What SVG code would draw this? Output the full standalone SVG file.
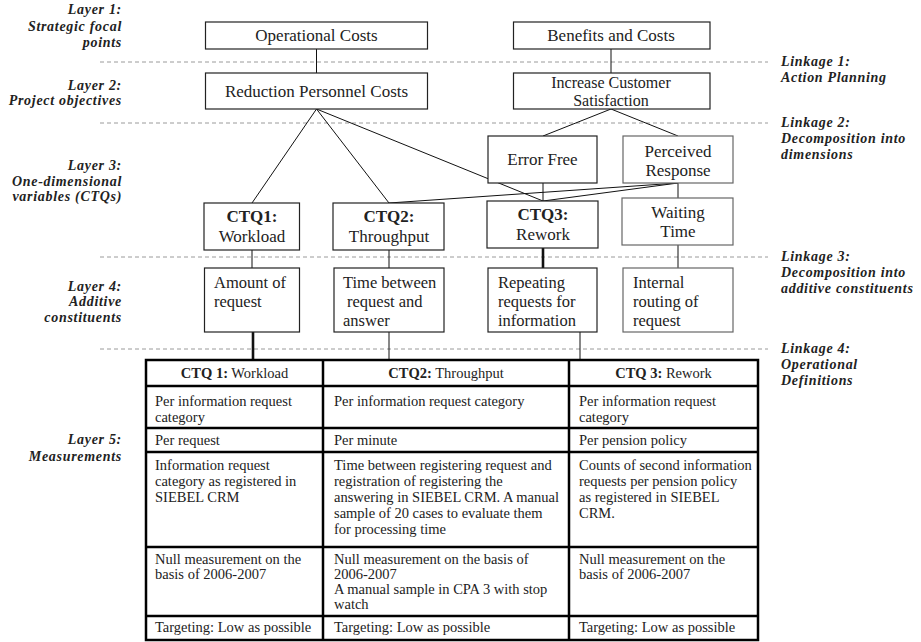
<svg xmlns="http://www.w3.org/2000/svg" width="921" height="642" viewBox="0 0 921 642">
<style>
  .box{fill:#fff;stroke:#222;stroke-width:1.2}
  .soft{stroke:#666}
  .sep{stroke:#9a9a9a;stroke-width:1;stroke-dasharray:4 3;fill:none}
  .ln{stroke:#111;stroke-width:1;fill:none}
  .heavy{stroke-width:2.6}
  .t{font-family:"Liberation Serif","DejaVu Serif",serif;font-size:17px;fill:#222}
  .t2{font-family:"Liberation Serif","DejaVu Serif",serif;font-size:16px;fill:#222}
  .t4{font-family:"Liberation Serif","DejaVu Serif",serif;font-size:16.5px;fill:#222}
  .c{text-anchor:middle}
  .b{font-weight:bold}
  .lab{font-family:"Liberation Serif","DejaVu Serif",serif;font-size:14px;font-weight:bold;font-style:italic;letter-spacing:0.7px;fill:#222}
  .end{text-anchor:end}
  .cell{font-family:"Liberation Serif","DejaVu Serif",serif;font-size:14.5px;fill:#222}
  .grid{stroke:#000;stroke-width:2.5;fill:none}
</style>
<rect width="921" height="642" fill="#fff"/>

<!-- layer separators -->
<g id="separators">
  <line class="sep" x1="100" y1="62" x2="768" y2="62"/>
  <line class="sep" x1="100" y1="123" x2="768" y2="123"/>
  <line class="sep" x1="100" y1="257" x2="768" y2="257"/>
  <line class="sep" x1="100" y1="349" x2="768" y2="349"/>
</g>

<!-- layer captions (left) -->
<g id="layer-labels">
  <text class="lab end" x="122" y="14">Layer 1:</text>
  <text class="lab end" x="122" y="31">Strategic focal</text>
  <text class="lab end" x="122" y="47">points</text>
  <text class="lab end" x="122" y="90">Layer 2:</text>
  <text class="lab end" x="122" y="105">Project objectives</text>
  <text class="lab end" x="122" y="170">Layer 3:</text>
  <text class="lab end" x="122" y="186">One-dimensional</text>
  <text class="lab end" x="122" y="201">variables (CTQs)</text>
  <text class="lab end" x="122" y="291">Layer 4:</text>
  <text class="lab end" x="122" y="306">Additive</text>
  <text class="lab end" x="122" y="322">constituents</text>
  <text class="lab end" x="122" y="444">Layer 5:</text>
  <text class="lab end" x="122" y="461">Measurements</text>
</g>

<!-- linkage captions (right) -->
<g id="linkage-labels">
  <text class="lab" x="781" y="66">Linkage 1:</text>
  <text class="lab" x="781" y="82">Action Planning</text>
  <text class="lab" x="781" y="127">Linkage 2:</text>
  <text class="lab" x="781" y="143">Decomposition into</text>
  <text class="lab" x="781" y="159">dimensions</text>
  <text class="lab" x="781" y="261">Linkage 3:</text>
  <text class="lab" x="781" y="277">Decomposition into</text>
  <text class="lab" x="781" y="293">additive constituents</text>
  <text class="lab" x="781" y="353">Linkage 4:</text>
  <text class="lab" x="781" y="369">Operational</text>
  <text class="lab" x="781" y="385">Definitions</text>
</g>

<!-- connectors -->
<g id="connectors">
  <line class="ln" x1="316.5" y1="49" x2="316.5" y2="73"/>
  <line class="ln" x1="611" y1="49" x2="611" y2="73"/>
  <line class="ln" x1="316.5" y1="109" x2="252" y2="203"/>
  <line class="ln" x1="316.5" y1="109" x2="389" y2="203"/>
  <line class="ln" x1="316.5" y1="109" x2="543" y2="201"/>
  <line class="ln" x1="611" y1="109" x2="543" y2="136"/>
  <line class="ln" x1="611" y1="109" x2="678" y2="136"/>
  <line class="ln" x1="678" y1="183" x2="389" y2="203"/>
  <line class="ln" x1="678" y1="183" x2="543" y2="201"/>
  <line class="ln" x1="678" y1="183" x2="678" y2="198"/>
  <line class="ln" x1="543" y1="183" x2="543" y2="201"/>
  <line class="ln" x1="252" y1="250" x2="252" y2="268"/>
  <line class="ln" x1="389" y1="250" x2="389" y2="268"/>
  <line class="ln heavy" x1="543" y1="248" x2="543" y2="268"/>
  <line class="ln" x1="678" y1="245" x2="678" y2="268"/>
  <line class="ln heavy" x1="253" y1="332" x2="253" y2="360"/>
  <line class="ln" x1="389" y1="332" x2="389" y2="360"/>
  <line class="ln" x1="580" y1="332" x2="580" y2="360"/>
</g>

<!-- layer 1 -->
<g id="operational-costs">
  <rect class="box" x="205.5" y="22" width="222" height="27"/>
  <text class="t c" x="316.5" y="41">Operational Costs</text>
</g>
<g id="benefits-costs">
  <rect class="box" x="513.5" y="22" width="196.5" height="27"/>
  <text class="t c" x="611" y="41">Benefits and Costs</text>
</g>

<!-- layer 2 -->
<g id="reduction-personnel-costs">
  <rect class="box" x="205.5" y="73" width="222" height="36"/>
  <text class="t c" x="316.5" y="97">Reduction Personnel Costs</text>
</g>
<g id="increase-customer-satisfaction">
  <rect class="box" x="513.5" y="73" width="196.5" height="36"/>
  <text class="t2 c" x="611" y="88">Increase Customer</text>
  <text class="t2 c" x="611" y="106">Satisfaction</text>
</g>

<!-- layer 3 -->
<g id="error-free">
  <rect class="box" x="488" y="136" width="109" height="47"/>
  <text class="t c" x="542.5" y="165">Error Free</text>
</g>
<g id="perceived-response">
  <rect class="box soft" x="623" y="136" width="110" height="47"/>
  <text class="t c" x="678" y="157">Perceived</text>
  <text class="t c" x="678" y="176">Response</text>
</g>
<g id="ctq1">
  <rect class="box" x="204" y="203" width="95.5" height="47"/>
  <text class="t c b" x="252" y="222">CTQ1:</text>
  <text class="t c" x="252" y="242">Workload</text>
</g>
<g id="ctq2">
  <rect class="box" x="333" y="203" width="111" height="47"/>
  <text class="t c b" x="389" y="222">CTQ2:</text>
  <text class="t c" x="389" y="242">Throughput</text>
</g>
<g id="ctq3">
  <rect class="box" x="487" y="201" width="111" height="47"/>
  <text class="t c b" x="543" y="220">CTQ3:</text>
  <text class="t c" x="543" y="240">Rework</text>
</g>
<g id="waiting-time">
  <rect class="box soft" x="622" y="198" width="111" height="47"/>
  <text class="t c" x="678" y="218">Waiting</text>
  <text class="t c" x="678" y="237">Time</text>
</g>

<!-- layer 4 -->
<g id="amount-of-request">
  <rect class="box" x="204.5" y="268" width="95" height="64"/>
  <text class="t4" x="214" y="288">Amount of</text>
  <text class="t4" x="214" y="307">request</text>
</g>
<g id="time-between">
  <rect class="box" x="334" y="268" width="110" height="64"/>
  <text class="t4" x="343" y="288">Time between</text>
  <text class="t4" x="347" y="307">request and</text>
  <text class="t4" x="343" y="326">answer</text>
</g>
<g id="repeating-requests">
  <rect class="box" x="488" y="268" width="109" height="64"/>
  <text class="t4" x="498" y="288">Repeating</text>
  <text class="t4" x="498" y="307">requests for</text>
  <text class="t4" x="498" y="326">information</text>
</g>
<g id="internal-routing">
  <rect class="box soft" x="623" y="268" width="110" height="64"/>
  <text class="t4" x="633" y="288">Internal</text>
  <text class="t4" x="633" y="307">routing of</text>
  <text class="t4" x="633" y="326">request</text>
</g>

<!-- layer 5: measurement table -->
<g id="measurement-table">
  <rect class="grid" x="146" y="360" width="612" height="280"/>
  <line class="grid" x1="146" y1="386" x2="758" y2="386"/>
  <line class="grid" x1="146" y1="428" x2="758" y2="428"/>
  <line class="grid" x1="146" y1="452" x2="758" y2="452"/>
  <line class="grid" x1="146" y1="547" x2="758" y2="547"/>
  <line class="grid" x1="146" y1="616" x2="758" y2="616"/>
  <line class="grid" x1="323" y1="360" x2="323" y2="640"/>
  <line class="grid" x1="569" y1="360" x2="569" y2="640"/>

  <text class="cell c" x="234.5" y="378"><tspan font-weight="bold">CTQ 1:</tspan> Workload</text>
  <text class="cell c" x="446" y="378"><tspan font-weight="bold">CTQ2:</tspan> Throughput</text>
  <text class="cell c" x="663.5" y="378"><tspan font-weight="bold">CTQ 3:</tspan> Rework</text>

  <text class="cell" x="155" y="406">Per information request</text>
  <text class="cell" x="155" y="422">category</text>
  <text class="cell" x="334" y="406">Per information request category</text>
  <text class="cell" x="579" y="406">Per information request</text>
  <text class="cell" x="579" y="422">category</text>

  <text class="cell" x="155" y="445">Per request</text>
  <text class="cell" x="334" y="445">Per minute</text>
  <text class="cell" x="579" y="445">Per pension policy</text>

  <text class="cell" x="155" y="470">Information request</text>
  <text class="cell" x="155" y="486">category as registered in</text>
  <text class="cell" x="155" y="502">SIEBEL CRM</text>
  <text class="cell" x="334" y="470">Time between registering request and</text>
  <text class="cell" x="334" y="486">registration of registering the</text>
  <text class="cell" x="334" y="502">answering in SIEBEL CRM. A manual</text>
  <text class="cell" x="334" y="518">sample of 20 cases to evaluate them</text>
  <text class="cell" x="334" y="534">for processing time</text>
  <text class="cell" x="579" y="470">Counts of second information</text>
  <text class="cell" x="579" y="486">requests per pension policy</text>
  <text class="cell" x="579" y="502">as registered in SIEBEL</text>
  <text class="cell" x="579" y="518">CRM.</text>

  <text class="cell" x="155" y="564">Null measurement on the</text>
  <text class="cell" x="155" y="579">basis of 2006-2007</text>
  <text class="cell" x="334" y="564">Null measurement on the basis of</text>
  <text class="cell" x="334" y="579">2006-2007</text>
  <text class="cell" x="334" y="594">A manual sample in CPA 3 with stop</text>
  <text class="cell" x="334" y="609">watch</text>
  <text class="cell" x="579" y="564">Null measurement on the</text>
  <text class="cell" x="579" y="579">basis of 2006-2007</text>

  <text class="cell" x="155" y="632">Targeting: Low as possible</text>
  <text class="cell" x="334" y="632">Targeting: Low as possible</text>
  <text class="cell" x="579" y="632">Targeting: Low as possible</text>
</g>
</svg>
